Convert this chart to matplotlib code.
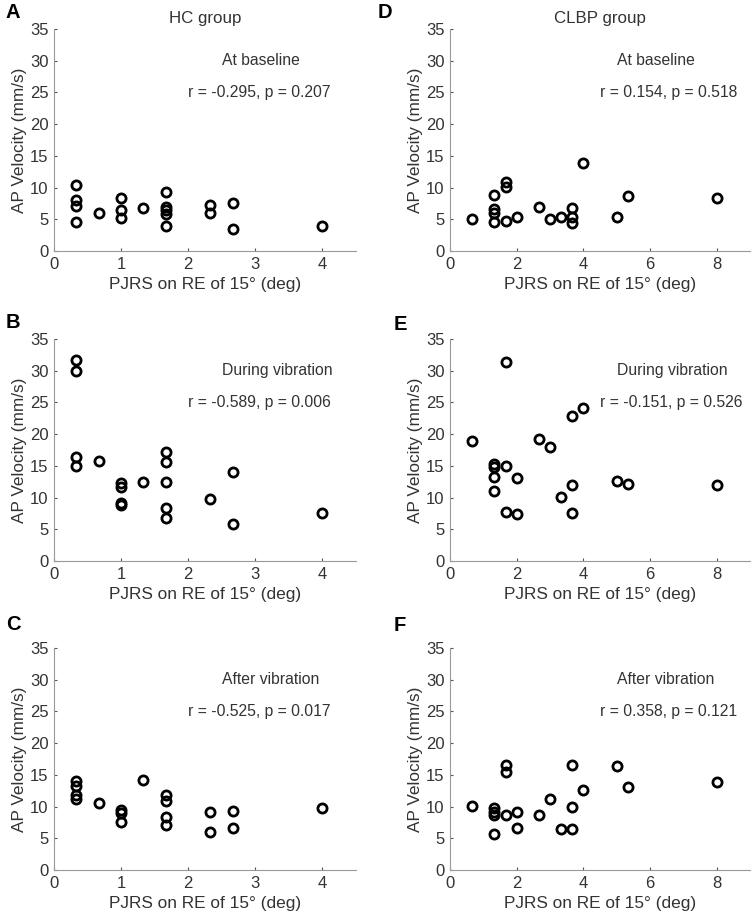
import matplotlib
matplotlib.use("Agg")
import matplotlib.pyplot as plt
import numpy as np

plt.rcParams['font.family'] = ['Liberation Sans', 'DejaVu Sans']

# HC group, PJRS values (deg) and AP velocity (mm/s)
hc_base_x = [0.333, 0.333, 0.333, 0.333, 0.667, 1, 1, 1, 1.333,
             1.667, 1.667, 1.667, 1.667, 1.667, 2.333, 2.333, 2.667, 2.667, 4]
hc_base_y = [10.4, 8.1, 7.1, 4.6, 6.0, 8.3, 6.4, 5.2, 6.8,
             9.3, 7.0, 6.4, 5.8, 4.0, 7.3, 6.0, 7.6, 3.4, 3.9]

hc_during_x = [0.333, 0.333, 0.333, 0.333, 0.667, 1, 1, 1, 1, 1.333,
               1.667, 1.667, 1.667, 1.667, 1.667, 2.333, 2.667, 2.667, 4]
hc_during_y = [31.7, 29.9, 16.4, 15.0, 15.8, 12.3, 11.7, 9.1, 8.8, 12.4,
               17.2, 15.6, 12.4, 8.4, 6.8, 9.7, 14.0, 5.9, 7.5]

hc_after_x = [0.333, 0.333, 0.333, 0.333, 0.667, 1, 1, 1, 1.333,
              1.667, 1.667, 1.667, 1.667, 2.333, 2.333, 2.667, 2.667, 4]
hc_after_y = [14.0, 13.3, 11.9, 11.2, 10.5, 9.5, 9.0, 7.5, 14.2,
              11.8, 10.9, 8.3, 7.1, 9.2, 6.0, 9.3, 6.7, 9.7]

# CLBP group
clbp_base_x = [0.667, 1.333, 1.333, 1.333, 1.333, 1.667, 1.667, 1.667, 2,
               2.667, 3, 3.333, 3.667, 3.667, 3.667, 4, 5, 5.333, 8]
clbp_base_y = [5.0, 8.8, 6.7, 6.0, 4.6, 10.9, 10.1, 4.8, 5.3,
               6.9, 5.0, 5.4, 6.8, 5.3, 4.4, 13.8, 5.3, 8.7, 8.4]

clbp_during_x = [0.667, 1.333, 1.333, 1.333, 1.333, 1.667, 1.667, 1.667, 2, 2,
                 2.667, 3, 3.333, 3.667, 3.667, 3.667, 4, 5, 5.333, 8]
clbp_during_y = [18.9, 15.3, 14.8, 13.3, 11.0, 31.3, 15.0, 7.8, 13.1, 7.4,
                 19.2, 17.9, 10.1, 22.9, 12.0, 7.5, 24.1, 12.6, 12.2, 12.0]

clbp_after_x = [0.667, 1.333, 1.333, 1.333, 1.333, 1.667, 1.667, 1.667, 2, 2,
                2.667, 3, 3.333, 3.667, 3.667, 3.667, 4, 5, 5.333, 8]
clbp_after_y = [10.1, 9.8, 9.1, 8.6, 5.7, 16.6, 15.5, 8.7, 9.2, 6.6,
                8.7, 11.2, 6.5, 16.5, 9.9, 6.5, 12.6, 16.4, 13.1, 13.8]

conditions = ["At baseline", "During vibration", "After vibration"]
hc_stats = ["r = -0.295, p = 0.207", "r = -0.589, p = 0.006", "r = -0.525, p = 0.017"]
clbp_stats = ["r = 0.154, p = 0.518", "r = -0.151, p = 0.526", "r = 0.358, p = 0.121"]

hc_data = [(hc_base_x, hc_base_y), (hc_during_x, hc_during_y), (hc_after_x, hc_after_y)]
clbp_data = [(clbp_base_x, clbp_base_y), (clbp_during_x, clbp_during_y),
             (clbp_after_x, clbp_after_y)]

W, H = 754, 919
fig = plt.figure(figsize=(W / 100, H / 100), dpi=100)

row_tops = [29, 339, 648]
row_h = 222
col_left = [54, 450]
col_w = [301.5, 300]

txt_col = '#333333'
ax_col = '#999999'

letters = [["A", "B", "C"], ["D", "E", "F"]]
letter_pos = [[(6, 3), (6, 313), (6, 615)], [(378, 3), (394, 315), (394, 616)]]

for c in range(2):
    data = hc_data if c == 0 else clbp_data
    stats = hc_stats if c == 0 else clbp_stats
    xmax = 4.5 if c == 0 else 9
    for r in range(3):
        ax = fig.add_axes([col_left[c] / W, 1 - (row_tops[r] + row_h) / H,
                           col_w[c] / W, row_h / H])
        x, y = data[r]
        ax.plot(x, y, 'o', ms=6.6, mfc='none', mec='black', mew=2.0, ls='none')
        ax.set_xlim(0, xmax)
        ax.set_ylim(0, 35)
        ax.set_yticks(np.arange(0, 36, 5))
        if c == 0:
            ax.set_xticks([0, 1, 2, 3, 4])
        else:
            ax.set_xticks([0, 2, 4, 6, 8])
        for s in ['top', 'right']:
            ax.spines[s].set_visible(False)
        for s in ['left', 'bottom']:
            ax.spines[s].set_color(ax_col)
            ax.spines[s].set_linewidth(0.8)
        ax.tick_params(direction='in', length=2.5, width=0.8, color='#555555',
                       labelsize=12, labelcolor=txt_col, pad=4)
        ax.set_xlabel("PJRS on RE of 15° (deg)", fontsize=12.4, color=txt_col, labelpad=4)
        ax.set_ylabel("AP Velocity (mm/s)", fontsize=12.4, color=txt_col, labelpad=2)
        x1 = 2.5 if c == 0 else 5.0
        x2 = 2.0 if c == 0 else 4.5
        ax.text(x1, 30, conditions[r], ha='left', va='center', fontsize=11.3, color=txt_col)
        ax.text(x2, 25, stats[r], ha='left', va='center', fontsize=11.3, color=txt_col)
        if r == 0:
            ax.set_title("HC group" if c == 0 else "CLBP group", fontsize=12.2,
                         color=txt_col, pad=4)
        lx, ly = letter_pos[c][r]
        fig.text(lx / W, 1 - ly / H, letters[c][r], fontsize=14.5, fontweight='bold',
                 ha='left', va='top', color='black')

fig.savefig("out.png", dpi=100)
